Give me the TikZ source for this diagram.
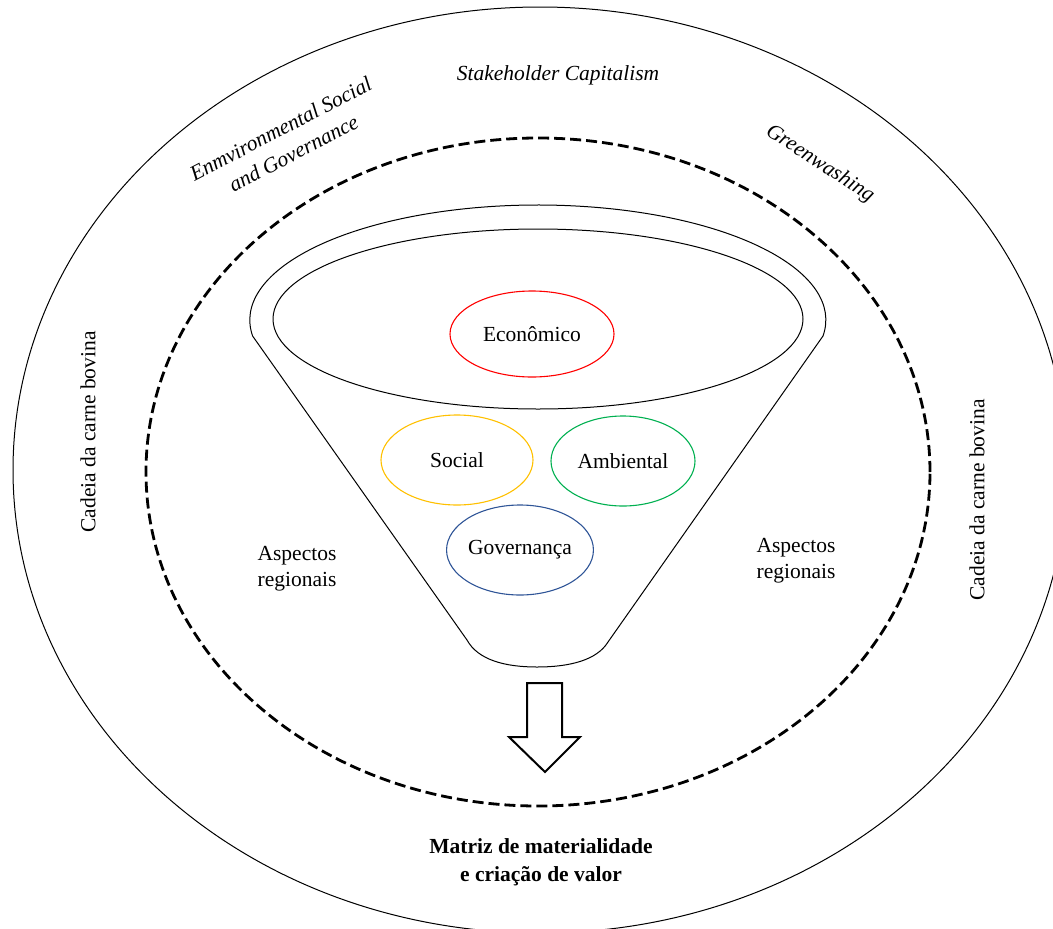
\documentclass[tikz,border=0pt]{standalone}
\usepackage{fontspec}
\setmainfont{Liberation Serif}
\usetikzlibrary{shapes.geometric}
\definecolor{econred}{HTML}{FF0000}
\definecolor{socgold}{HTML}{FFC000}
\definecolor{ambgreen}{HTML}{00B050}
\definecolor{govblue}{HTML}{2F5597}
\begin{document}
\begin{tikzpicture}[x=1pt,y=-1pt,
  lbl/.style={font=\fontsize{21.5}{26}\selectfont, inner sep=0pt, align=center},
  itlbl/.style={lbl, font=\fontsize{21.5}{28}\selectfont\itshape},
  ring/.style={ellipse, draw, inner sep=0pt},
  pillar/.style={ellipse, draw, line width=1.1pt, inner sep=0pt,
                 font=\fontsize{21.5}{26}\selectfont},
]
\useasboundingbox (0,0) rectangle (1053,929);

% outer context ring and dashed value-chain ring
\node[ring, line width=1pt, minimum width=1054pt, minimum height=926pt] (outer) at (540,470) {};
\node[ring, line width=2.8pt, dash pattern=on 11pt off 5pt,
      minimum width=784pt, minimum height=668pt] (chain) at (538,472) {};

% funnel body: rim arc, sides and rounded spout
\draw[line width=1pt, line join=round]
  (823,336) arc[start angle=-8, end angle=188, x radius=288pt, y radius=115pt]
  -- (467,640) .. controls (478,660) and (505,667) .. (537,667)
  .. controls (570,667) and (597,660) .. (608,642) -- cycle;
\node[ring, line width=1pt, minimum width=530pt, minimum height=180pt] (mouth) at (538,319) {};

% the four pillars
\node[pillar, draw=econred, minimum width=164pt, minimum height=86pt] (econ) at (532,334) {Econômico};
\node[pillar, draw=socgold, minimum width=152pt, minimum height=90pt] (soc) at (457,460) {Social};
\node[pillar, draw=ambgreen, minimum width=144pt, minimum height=90pt] (amb) at (623,461) {Ambiental};
\node[pillar, draw=govblue, minimum width=132pt, minimum height=90pt] (gov) at (520,550) {Governança};

% output arrow
\draw[line width=2pt, line join=miter]
  (527,683) -- (562,683) -- (562,737) -- (580,737) -- (545,772)
  -- (509,737) -- (527,737) -- cycle;

% labels
\node[itlbl] (stake) at (558,75) {Stakeholder Capitalism};
\node[itlbl, rotate=27.5] (esg) at (287,141) {Enmvironmental Social\\and Governance};
\node[itlbl, rotate=-33] (green) at (820,164) {Greenwashing};
\node[lbl, rotate=90] (cadL) at (88,432) {Cadeia da carne bovina};
\node[lbl, rotate=90] (cadR) at (977,500) {Cadeia da carne bovina};
\node[lbl] (aspL) at (297,569) {Aspectos\\regionais};
\node[lbl] (aspR) at (796,561) {Aspectos\\regionais};
\node[lbl, font=\fontsize{21.5}{28}\selectfont\bfseries] (matriz) at (541,862)
  {Matriz de materialidade\\e criação de valor};
\end{tikzpicture}
\end{document}
